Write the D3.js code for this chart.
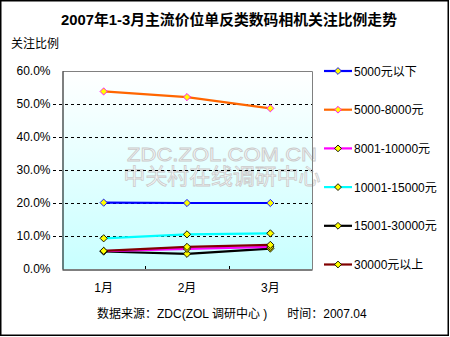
<!DOCTYPE html>
<html>
<head>
<meta charset="utf-8">
<script src="https://cdn.jsdelivr.net/npm/d3@7/dist/d3.min.js"></script>
<style>
  html, body { margin: 0; padding: 0; background: #fff; }
  svg { display: block; }
  text { font-family: "Liberation Sans", Arial, "Noto Sans CJK SC", sans-serif; }
</style>
</head>
<body>
<svg id="chart" width="450" height="337"></svg>
<script>
// Months on the category axis
const months = ["1月", "2月", "3月"];
// Attention share (%) per price band
const seriesNames = ["5000元以下", "5000-8000元", "8001-10000元", "10001-15000元", "15001-30000元", "30000元以上"];
const below5000 = [20.1, 20.0, 20.0];
const from5000to8000 = [53.8, 52.1, 48.7];
const from8001to10000 = [5.4, 6.1, 6.7];
const from10001to15000 = [9.3, 10.5, 10.8];
const from15001to30000 = [5.3, 4.6, 6.2];
const above30000 = [5.5, 6.7, 7.3];
const yTicks = [0, 10, 20, 30, 40, 50, 60];

const seriesValues = [below5000, from5000to8000, from8001to10000, from10001to15000, from15001to30000, above30000];
const lineColors = ["#0000ff", "#ff6600", "#ff00ff", "#00ffff", "#000000", "#800000"];
const markerStroke = ["#0000ff", "#ff00ff", "#000000", "#000000", "#000000", "#000000"];

const svg = d3.select("#chart");
const plot = { left: 62, right: 312, top: 71, bottom: 269 };

const x = d3.scaleBand().domain(months).range([plot.left, plot.right]);
const y = d3.scaleLinear().domain([0, 60]).range([plot.bottom, plot.top]);

// background gradient for the plot area
const defs = svg.append("defs");
const grad = defs.append("linearGradient").attr("id", "bg").attr("x1", 0).attr("y1", 0).attr("x2", 0).attr("y2", 1);
grad.append("stop").attr("offset", "0%").attr("stop-color", "#ffffff");
grad.append("stop").attr("offset", "100%").attr("stop-color", "#c8ffff");

svg.append("rect")
  .attr("x", plot.left).attr("y", plot.top)
  .attr("width", plot.right - plot.left).attr("height", plot.bottom - plot.top)
  .attr("fill", "url(#bg)");

// title
svg.append("text")
  .attr("x", 229).attr("y", 25)
  .attr("text-anchor", "middle")
  .attr("font-size", 14.5).attr("font-weight", "bold")
  .attr("font-family", "'Noto Sans CJK SC', sans-serif")
  .attr("textLength", 336).attr("lengthAdjust", "spacingAndGlyphs")
  .text("2007年1-3月主流价位单反类数码相机关注比例走势");

svg.append("text")
  .attr("x", 11).attr("y", 48)
  .attr("font-size", 12)
  .attr("font-family", "'Noto Sans CJK SC', sans-serif")
  .text("关注比例");

// watermark
const wm = svg.append("g").attr("pointer-events", "none");
[["ZDC.ZOL.COM.CN", 161, 19, 190, "'Liberation Sans', Arial, sans-serif"],
 ["中关村在线调研中心", 184, 22, 197, "'Noto Sans CJK SC', sans-serif"]].forEach(([t, by, fs, len, ff]) => {
  wm.append("text")
    .attr("x", 222).attr("y", by)
    .attr("text-anchor", "middle")
    .attr("font-size", fs).attr("font-family", ff)
    .attr("textLength", len).attr("lengthAdjust", "spacingAndGlyphs")
    .attr("fill", "#f8fafa").attr("stroke", "#cacaca").attr("stroke-width", 0.8)
    .text(t);
});

// gridlines
svg.append("g").selectAll("line")
  .data(yTicks.filter(v => v > 0 && v < 60))
  .join("line")
  .attr("x1", 53).attr("x2", plot.right)
  .attr("y1", d => Math.round(y(d)) + 0.5).attr("y2", d => Math.round(y(d)) + 0.5)
  .attr("stroke", "#000").attr("stroke-width", 1)
  .attr("stroke-dasharray", "3,3");

// frame: gray top/right, black left/bottom axes
svg.append("path")
  .attr("d", `M${plot.left + 0.5},${plot.top + 0.5}H${plot.right + 0.5}V${plot.bottom + 0.5}`)
  .attr("fill", "none").attr("stroke", "#808080");

// y axis
const yAxis = svg.append("g")
  .attr("transform", `translate(${plot.left + 0.5},0)`)
  .call(d3.axisLeft(y).tickValues(yTicks).tickSize(0).tickPadding(12).tickFormat(d => d.toFixed(1) + "%"));
yAxis.select(".domain").attr("stroke", "#000");
yAxis.selectAll("text").attr("font-size", 12).attr("font-family", "'Liberation Sans', Arial, sans-serif").attr("fill", "#000");

// x axis
const xAxis = svg.append("g")
  .attr("transform", `translate(0,${plot.bottom + 0.5})`)
  .call(d3.axisBottom(x).tickSize(0).tickPadding(14));
xAxis.select(".domain").attr("stroke", "#000");
xAxis.selectAll("text").attr("font-size", 12).attr("font-family", "'Noto Sans CJK SC', sans-serif").attr("fill", "#000");
// category boundary ticks pointing inward
svg.append("g").selectAll("line")
  .data(months.slice(1))
  .join("line")
  .attr("x1", d => Math.round(x(d)) + 0.5).attr("x2", d => Math.round(x(d)) + 0.5)
  .attr("y1", plot.bottom).attr("y2", plot.bottom - 3)
  .attr("stroke", "#000");

const cx = m => x(m) + x.bandwidth() / 2;
const line = d3.line().x((d, i) => cx(months[i])).y(d => y(d));
const diamond = s => `M0,${-s}L${s},0L0,${s}L${-s},0Z`;

// series lines, then markers on top
const order = [1, 0, 3, 4, 2, 5];
order.forEach(k => {
  svg.append("path")
    .datum(seriesValues[k])
    .attr("d", line)
    .attr("fill", "none")
    .attr("stroke", lineColors[k]).attr("stroke-width", 2.2);
});
order.forEach(k => {
  svg.append("g").selectAll("path")
    .data(seriesValues[k])
    .join("path")
    .attr("transform", (d, i) => `translate(${cx(months[i])},${y(d)})`)
    .attr("d", diamond(3.6))
    .attr("fill", "#ffff00")
    .attr("stroke", markerStroke[k]).attr("stroke-width", 0.9);
});

// legend
const legend = svg.append("g");
seriesNames.forEach((name, k) => {
  const ly = 71 + k * 38.7;
  const g = legend.append("g").attr("transform", `translate(0,${ly})`);
  g.append("line").attr("x1", 324).attr("x2", 352).attr("y1", 0).attr("y2", 0)
    .attr("stroke", lineColors[k]).attr("stroke-width", 2.2);
  g.append("path").attr("transform", "translate(338,0)").attr("d", diamond(3.4))
    .attr("fill", "#ffff00").attr("stroke", markerStroke[k]).attr("stroke-width", 0.9);
  g.append("text").attr("x", 354).attr("y", 4.5)
    .attr("font-size", 12)
    .attr("font-family", "'Liberation Sans', Arial, 'Noto Sans CJK SC', sans-serif")
    .text(name);
});

// footer
svg.append("text")
  .attr("x", 97).attr("y", 318)
  .attr("font-size", 12)
  .attr("font-family", "'Liberation Sans', Arial, 'Noto Sans CJK SC', sans-serif")
  .attr("xml:space", "preserve")
  .text("数据来源：ZDC(ZOL 调研中心 )      时间：2007.04");

// outer border
svg.append("rect")
  .attr("x", 0.75).attr("y", 0.75).attr("width", 447.5).attr("height", 334.5)
  .attr("fill", "none").attr("stroke", "#000").attr("stroke-width", 1.5);
</script>
</body>
</html>
